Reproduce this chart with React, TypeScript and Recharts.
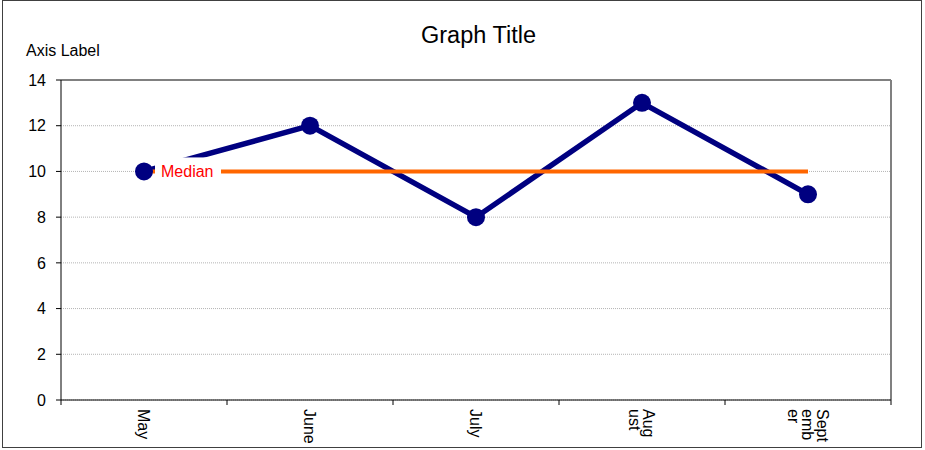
import { LineChart, Line, XAxis, YAxis, CartesianGrid, LabelList } from 'recharts'

const months = ['May', 'June', 'July', 'August', 'September']
const values = [10, 12, 8, 13, 9]
const MEDIAN = 10
const yTicks = [0, 2, 4, 6, 8, 10, 12, 14]
// wrapped month labels as they appear under the axis
const monthLabels = [['May'], ['June'], ['July'], ['Aug', 'ust'], ['Sept', 'emb', 'er']]

const data = months.map((m, i) => ({ month: m, value: values[i], median: MEDIAN }))

const FONT = '"Liberation Sans", Arial, sans-serif'

function MonthTick(props: any) {
  const { x, y, payload } = props
  const i = months.indexOf(payload.value)
  const lines = monthLabels[i] ?? [String(payload.value)]
  const off = payload.offset ?? 0
  const lh = 14.5
  const n = lines.length
  return (
    <g>
      <line x1={x - off} x2={x - off} y1={y} y2={y + 5} stroke="#000" />
      {i === months.length - 1 && <line x1={x + off} x2={x + off} y1={y} y2={y + 5} stroke="#000" />}
      <text
        transform={`translate(${x},${y + 9}) rotate(90)`}
        fontSize={16}
        fontFamily={FONT}
        fill="#000"
        textAnchor="start"
        dominantBaseline="central"
      >
        {lines.map((l, k) => (
          <tspan key={k} x={0} y={(k - (n - 1) / 2) * lh}>
            {l}
          </tspan>
        ))}
      </text>
    </g>
  )
}

function MedianLabel(props: any) {
  const { x, y, index } = props
  if (index !== 0) return null
  return (
    <g>
      <rect x={x + 11} y={y - 14} width={66} height={27} fill="#fff" />
      <text x={x + 17} y={y} dominantBaseline="central" fontSize={16} fontFamily={FONT} fill="#FF0000">
        Median
      </text>
    </g>
  )
}

// grey frame on the top and right edges of the plot area
const topEdge = ({ offset }: any) => [offset.top]
const rightEdge = ({ offset }: any) => [offset.left + offset.width]

export default function App() {
  return (
    <div style={{ position: 'absolute', left: 0, top: 0, width: 925, height: 450, fontFamily: FONT, background: '#fff' }}>
      <LineChart width={925} height={450} data={data} margin={{ top: 80, right: 34, bottom: 0, left: 11 }}>
        <CartesianGrid vertical={false} stroke="#b4b4b4" strokeDasharray="1 1" />
        <CartesianGrid
          stroke="#808080"
          strokeWidth={2}
          horizontalCoordinatesGenerator={topEdge}
          verticalCoordinatesGenerator={rightEdge}
        />
        <XAxis
          dataKey="month"
          scale="band"
          height={50}
          interval={0}
          stroke="#000"
          tickLine={false}
          tickSize={0}
          tickMargin={0}
          tick={<MonthTick />}
        />
        <YAxis
          type="number"
          domain={[0, 14]}
          ticks={yTicks}
          interval={0}
          width={50}
          stroke="#000"
          tickSize={5}
          tickMargin={10}
          tick={{ fill: '#000', fontSize: 16, fontFamily: FONT }}
        />
        <Line
          type="linear"
          dataKey="value"
          stroke="#000080"
          strokeWidth={5.5}
          dot={{ r: 9, fill: '#000080', stroke: '#000080', strokeWidth: 0 }}
          activeDot={false}
          isAnimationActive={false}
        />
        <Line
          type="linear"
          dataKey="median"
          stroke="#FF6600"
          strokeWidth={4}
          dot={false}
          activeDot={false}
          isAnimationActive={false}
        >
          <LabelList dataKey="median" content={<MedianLabel />} />
        </Line>
      </LineChart>
      <svg width={925} height={450} style={{ position: 'absolute', left: 0, top: 0, pointerEvents: 'none' }}>
        <rect x={2.5} y={0.5} width={919} height={447} fill="none" stroke="#404040" />
        <text x={478.5} y={43} textAnchor="middle" fontSize={23.5} fontFamily={FONT} fill="#000">
          Graph Title
        </text>
        <text x={26} y={56} fontSize={16} fontFamily={FONT} fill="#000">
          Axis Label
        </text>
      </svg>
    </div>
  )
}
